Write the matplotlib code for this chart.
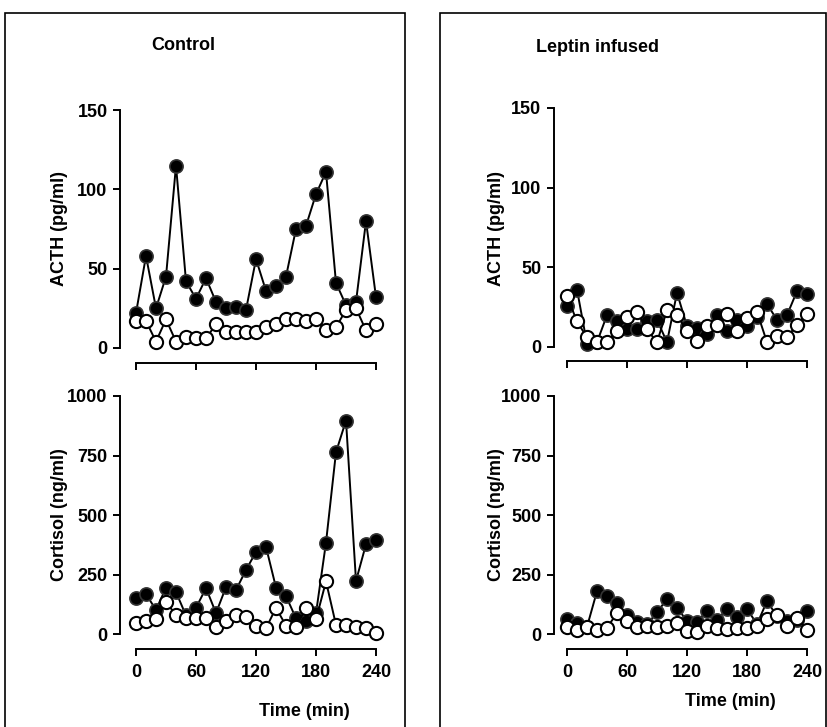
import matplotlib
matplotlib.use("Agg")
import matplotlib.pyplot as plt
from matplotlib.patches import Rectangle

plt.rcParams['font.family'] = ['Liberation Sans', 'DejaVu Sans']
plt.rcParams['font.weight'] = 'bold'

# sampling times (min)
time = [0, 10, 20, 30, 40, 50, 60, 70, 80, 90, 100, 110, 120,
        130, 140, 150, 160, 170, 180, 190, 200, 210, 220, 230, 240]

# Control
acth_ctrl_solid = [22, 58, 25, 45, 115, 42, 31, 44, 29, 25, 26, 24, 56,
                   36, 39, 45, 75, 77, 97, 111, 41, 27, 29, 80, 32]
acth_ctrl_open = [17, 17, 4, 18, 4, 7, 6, 6, 15, 10, 10, 10, 10,
                  13, 15, 18, 18, 17, 18, 11, 13, 24, 25, 11, 15]
cort_ctrl_solid = [150, 168, 101, 195, 176, 78, 110, 193, 88, 197, 185, 269, 345,
                   366, 195, 159, 66, 56, 87, 384, 764, 897, 223, 377, 394]
cort_ctrl_open = [45, 56, 61, 134, 80, 69, 69, 69, 31, 54, 80, 73, 35,
                  24, 110, 35, 31, 108, 61, 221, 38, 38, 31, 24, 3]

# Leptin infused
acth_lep_solid = [26, 36, 2, 3, 20, 16, 11, 11, 16, 17, 3, 34, 13,
                  12, 8, 20, 10, 17, 13, 19, 27, 17, 20, 35, 33]
acth_lep_open = [32, 16, 6, 3, 3, 10, 19, 22, 11, 3, 23, 20, 10,
                 4, 13, 14, 21, 10, 18, 22, 3, 7, 6, 14, 21]
cort_lep_solid = [64, 45, 30, 180, 161, 129, 80, 50, 40, 91, 147, 110, 55,
                  50, 97, 58, 105, 71, 106, 41, 138, 75, 54, 60, 97]
cort_lep_open = [31, 17, 31, 17, 27, 87, 55, 29, 35, 30, 35, 48, 12,
                 10, 33, 26, 19, 27, 24, 35, 63, 80, 33, 67, 17]

xticks = [0, 60, 120, 180, 240]

W, H = 827, 727
FS = 13
fig = plt.figure(figsize=(W / 100, H / 100), dpi=100)


def px_axes(x0, y_top, x1, y_bot):
    return fig.add_axes([x0 / W, 1 - y_bot / H, (x1 - x0) / W, (y_bot - y_top) / H])


def style(ax, xlim, ylim, ymax, yticks, show_x):
    ax.set_xlim(*xlim)
    ax.set_ylim(*ylim)
    for s in ['top', 'right']:
        ax.spines[s].set_visible(False)
    ax.spines['left'].set_bounds(0, ymax)
    ax.spines['bottom'].set_bounds(0, 240)
    for s in ['left', 'bottom']:
        ax.spines[s].set_linewidth(1.4)
    ax.set_yticks(yticks)
    ax.set_xticks(xticks)
    ax.tick_params(length=5, width=1.4, labelsize=FS, pad=4)
    ax.tick_params(axis='x', pad=6)
    if not show_x:
        ax.set_xticklabels([])
    for lab in ax.get_xticklabels() + ax.get_yticklabels():
        lab.set_fontweight('bold')


def draw(ax, solid, opn):
    ax.plot(time, solid, '-o', color='black', lw=1.4, ms=9.5,
            mfc='black', mec='#333333', mew=1.2, zorder=2, clip_on=False)
    ax.plot(time, opn, '-o', color='black', lw=1.4, ms=9.5,
            mfc='white', mec='black', mew=1.5, zorder=3, clip_on=False)


panels = [
    # x0, top, x1, bottom, xlim, ylim, ymax, yticks, solid, open, show_x
    (120, 105, 380, 363, (-16, 244), (-9.5, 153.2), 150, [0, 50, 100, 150],
     acth_ctrl_solid, acth_ctrl_open, False),
    (120, 391, 380, 649, (-16, 244), (-63, 1021), 1000, [0, 250, 500, 750, 1000],
     cort_ctrl_solid, cort_ctrl_open, True),
    (554, 103, 812, 361, (-13, 245), (-8.8, 153.1), 150, [0, 50, 100, 150],
     acth_lep_solid, acth_lep_open, False),
    (554, 391, 812, 649, (-13, 245), (-63, 1021), 1000, [0, 250, 500, 750, 1000],
     cort_lep_solid, cort_lep_open, True),
]

for x0, yt, x1, yb, xl, yl, ymax, yt_, solid, opn, show_x in panels:
    ax = px_axes(x0, yt, x1, yb)
    draw(ax, solid, opn)
    style(ax, xl, yl, ymax, yt_, show_x)

# y labels
for lx in (60, 497):
    fig.text(lx / W, 1 - 229 / H, 'ACTH (pg/ml)', rotation=90, ha='center', va='center',
             fontsize=FS, fontweight='bold')
    fig.text(lx / W, 1 - 515 / H, 'Cortisol (ng/ml)', rotation=90, ha='center', va='center',
             fontsize=FS, fontweight='bold')

# x labels
fig.text(304 / W, 1 - 712 / H, 'Time (min)', ha='center', va='center',
         fontsize=FS, fontweight='bold')
fig.text(730 / W, 1 - 702 / H, 'Time (min)', ha='center', va='center',
         fontsize=FS, fontweight='bold')

# panel titles
fig.text(183 / W, 1 - 45 / H, 'Control', ha='center', va='center',
         fontsize=FS, fontweight='bold')
fig.text(598 / W, 1 - 47 / H, 'Leptin infused', ha='center', va='center',
         fontsize=FS, fontweight='bold')

# frames around the two groups (open at the bottom)
for bx0, bx1 in [(5, 405), (440, 826)]:
    fig.add_artist(Rectangle((bx0 / W, -0.05), (bx1 - bx0) / W, 1 - 13 / H + 0.05,
                             transform=fig.transFigure, fill=False, lw=1.2,
                             edgecolor='black', clip_on=False))

fig.savefig('out.png', dpi=100)
